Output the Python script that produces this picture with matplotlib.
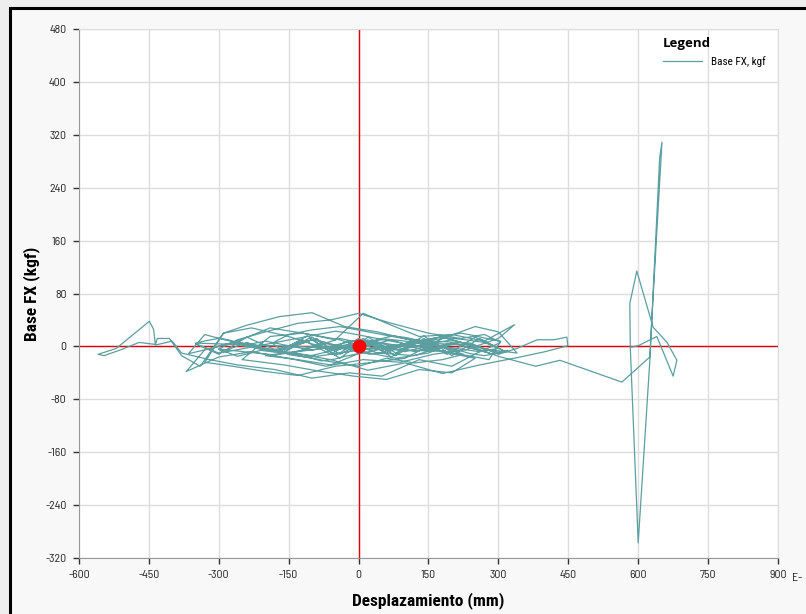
import matplotlib
matplotlib.use("Agg")
import matplotlib.pyplot as plt
from matplotlib.patches import Rectangle

# displacement (mm) and base shear (kgf)
disp = [
    0, -25, -60, -90, -130, -160, -185,
    -150, -100, -40, 20, 80, 140, 190, 225,
    180, 120, 60, 0, -70, -140, -210, -260, -300,
    -260, -200, -130, -60, 0, 70, 150, 220, 270, 305,
    260, 200, 130, 50, -20, -100, -180, -260, -320, -380,
    -400, -436, -440, -449, -520, -559, -546, -510, -471, -436,
    -432, -406, -380, -340, -290, -230, -150, -60, 30, 110, 200, 280, 340,
    300, 250, 180, 100, 20, -50, -130, -200, -270, -330,
    -290, -240, -170, -100, -30, 40, 110, 180, 250,
    200, 130, 60, -10, -80, -160, -250,
    -190, -120, -50, 10, 60, 130, 200, 270, 335,
    300, 230, 160, 90, 10, -70, -150, -230, -300, -370,
    -330, -260, -190, -120, -40, 40, 120, 200,
    150, 80, 10, -60, -130, -200,
    -120, -40, 60, 160, 240, 300, 340, 383, 419, 447, 449, 400, 340,
    260, 180, 100, 20, -60, -140,
    -80, 0, 70, 140, 210, 280,
    200, 120, 40, -30, -100,
    -50, 0, 50, 100, 160,
    110, 60, 0, -60, -120, -180, -240, -300, -350,
    -300, -240, -170, -110, -50, 10, 70, 130, 190, 250, 310,
    260, 200, 140, 80, 20, -40, -100, -160,
    -100, -40, 20, 80, 140, 200,
    -350, -325, -300, -275, -250, -225, -200, -175, -150, -125, -100, -75, -50, -25,
    0, 25, 50, 75, 100, 125, 150, 175, 200, 225, 250, 275, 300, 320,
    300, 270, 240, 215, 185, 160, 130, 105, 75, 50, 20, -5, -35, -60, -90, -115,
    -145, -170, -200, -230, -255, -285, -310, -340, -365,
    -330, -310, -280, -260, -230, -205, -180, -150, -130, -100, -80, -50, -30,
    0, 30, 55, 85, 110, 140, 165, 195, 220, 250, 275, 305,
    280, 250, 220, 190, 160, 130, 100, 70, 40, 10, -20, -50, -80, -110, -140,
    -170, -200, -230, -260, -290,
    -300, -260, -220, -180, -140, -100, -60, -20, 20, 60, 100, 140, 180, 220, 260, 300,
    270, 230, 190, 150, 110, 70, 30, -10, -50, -90, -130, -170, -210, -250,
    -200, -100, 0, 100, 170,
    230, 300, 380, 432,
    565, 625, 628, 651, 646, 625, 600, 583, 582, 597, 632, 662, 683, 675, 640, 600, 586,
]
force = [
    0, 8, -4, 12, 3, -9, 5,
    18, 25, 30, 22, 14, 6, -3, -12,
    -20, -25, -18, -30, -22, -12, -6, -15, -4,
    10, 22, 35, 40, 50, 35, 20, 12, 18, 6,
    -8, -30, -20, -45, -40, -48, -35, -28, -20, -10,
    8, 2, 26, 38, -3, -12, -14, -5, 6, 3,
    12, 12, -14, -30, 20, 28, 15, -5, 8, -2, 10, -5, -10,
    22, 30, 12, -18, -25, -30, -44, -38, -30, -24,
    20, 32, 45, 51, 30, 22, 10, -8, -18,
    -40, -35, -50, -45, -38, -28, -20,
    15, 20, 10, 50, 35, 15, 18, 8, 33,
    12, -5, -12, -24, -20, -30, -18, -8, -16, -38,
    -5, 8, 28, 20, 10, -10, -14, 5,
    -10, -18, -8, -28, -20, -14,
    -6, 12, -3, 8, 5, -12, -3, 10, 10, 14, 1, -8, -17,
    -28, -41, -25, -36, -20, -10,
    5, -3, 10, -6, 4, -10,
    5, -8, 6, -4, 2,
    -3, 4, -6, 3, -2,
    8, -10, 12, -12, 10, -8, 6, -10, 4,
    -12, 14, -8, 16, -14, 12, -16, 10, -12, 14, -6,
    12, -14, 16, -10, 14, -18, 10, -6,
    14, -12, 10, -14, 12, -8,
    5, 9, 12, 8, 3, -2, -6, -4, 1, 6, 10, 7, 2, -3,
    -8, -12, -9, -4, 2, 7, 11, 14, 10, 5, 0, -5, -9, -6,
    -10, -14, -11, -6, -1, 4, 9, 13, 16, 12, 7, 2, -3, -7, -12, -16,
    -13, -8, -3, 2, 6, 3, -2, -7, -11,
    18, 14, 10, 6, 2, -2, -6, -10, -14, -18, -22, -19, -15,
    -11, -7, -3, 1, 5, 9, 13, 17, 20, 16, 12, 8,
    -20, -16, -12, -8, -4, 0, 4, 8, 12, 16, 20, 23, 19, 15, 11,
    7, 3, -1, -5, -9,
    -4, -7, -10, -13, -9, -5, -1, 3, 7, 11, 8, 4, 0, -4, -8, -3,
    6, 10, 13, 9, 5, 1, -3, -7, -11, -15, -11, -7, -3, 1,
    8, -6, 10, -8, 4,
    3, -15, -30, -21,
    -54, -16, 26, 309, 285, -21, -297, -1, 65, 114, 29, 6, -21, -45, 15, 1, -1,
]

x_ticks = [-600, -450, -300, -150, 0, 150, 300, 450, 600, 750, 900]
y_ticks = [-320, -240, -160, -80, 0, 80, 160, 240, 320, 400, 480]

tick_font = ["Barlow Semi Condensed", "Roboto Condensed", "DejaVu Sans"]
label_font = ["Roboto Condensed", "Liberation Sans Narrow", "DejaVu Sans"]
title_font = ["Open Sans", "DejaVu Sans"]

fig = plt.figure(figsize=(8.06, 6.14), dpi=100, facecolor="#eeeeee")
# black frame round the chart
frame = Rectangle((10 / 806, -0.02), 1.0, 1 - 8 / 614 + 0.02,
                  transform=fig.transFigure, facecolor="#f8f8f8",
                  edgecolor="black", linewidth=2.2, zorder=-5)
fig.add_artist(frame)

ax = fig.add_axes([79 / 806, 1 - 558 / 614, (778 - 79) / 806, (558 - 29) / 614])
ax.set_facecolor("white")

ax.plot(disp, force, color="#5b9fa1", linewidth=0.9, label="Base FX, kgf", zorder=3)
ax.axhline(0, color="#e30000", linewidth=1.0, zorder=2)
ax.axvline(0, color="#e30000", linewidth=1.0, zorder=2)
ax.plot([0], [0], "o", color="#ff0000", markersize=9, zorder=5)

ax.set_xlim(-600, 900)
ax.set_ylim(-320, 480)
ax.set_xticks(x_ticks)
ax.set_yticks(y_ticks)
ax.set_xticklabels([str(v) for v in x_ticks], family=tick_font, fontsize=8.5, color="#222222")
ax.set_yticklabels([str(v) for v in y_ticks], family=tick_font, fontsize=8.5, color="#222222")
ax.tick_params(direction="out", length=4, width=1, color="#333333", pad=5)
ax.grid(True, color="#dddddd", linewidth=1.0, zorder=0)
ax.set_axisbelow(True)
for side in ["top", "right"]:
    ax.spines[side].set_color("#dddddd")
for side in ["left", "bottom"]:
    ax.spines[side].set_color("#999999")
    ax.spines[side].set_linewidth(0.8)

ax.set_xlabel("Desplazamiento (mm)", family=label_font, fontsize=12.5,
              fontweight="bold", labelpad=8)
ax.set_ylabel("Base FX (kgf)", family=label_font, fontsize=12.5,
              fontweight="bold", labelpad=4)

fig.text(792 / 806, 1 - 578 / 614, "E-", family=tick_font, fontsize=8.5,
         color="#222222", va="center", ha="left")

leg = ax.legend(loc="upper right", bbox_to_anchor=(1.003, 1.012), frameon=False,
                title="Legend", prop={"family": label_font, "size": 8},
                handlelength=3.5, alignment="left", borderpad=0.8)
leg.get_title().set_family(title_font)
leg.get_title().set_fontweight("bold")
leg.get_title().set_fontsize(9.5)

fig.savefig("out.png", dpi=100, facecolor=fig.get_facecolor())
